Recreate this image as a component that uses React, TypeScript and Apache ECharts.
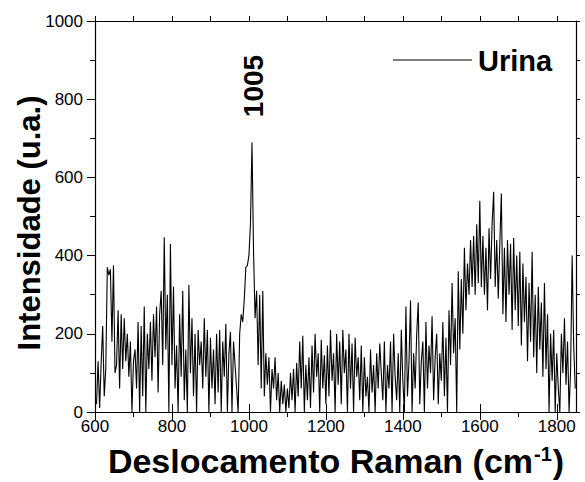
import React, { useEffect, useRef } from "react";
import * as echarts from "echarts";

// Raman shift grid (cm-1): first sample and spacing
const wavenumberStart = 604;
const wavenumberStep = 4;

// Intensity (u.a.), one value per sample
const intensity600s = [20,130,10,125,220,40,110,370,350,365,180,375,100,120,260,60,250,110,240,130,200,90,180,0,130];
const intensity700s = [160,60,230,0,220,40,270,0,200,110,230,80,250,140,270,50,250,310,120,447,160,300,0,430,120];
const intensity800s = [320,60,170,0,250,90,310,30,160,0,325,100,240,40,200,0,210,120,180,60,240,90,210,0,190];
const intensity900s = [60,160,20,200,50,210,0,180,90,225,0,150,205,0,180,120,60,0,200,250,230,290,370,375,400];
const intensity1000s = [480,690,410,240,310,120,300,60,310,40,150,70,140,0,110,60,140,30,100,0,80,20,70,0,60];
const intensity1100s = [10,100,30,110,0,125,40,180,60,195,0,120,30,140,10,170,50,200,90,150,0,185,60,145,20];
const intensity1200s = [170,40,210,80,150,0,200,70,180,20,210,100,160,0,200,60,175,0,190,90,140,30,170,0,140];
const intensity1300s = [40,90,0,160,50,120,0,150,60,175,100,30,180,0,120,60,180,0,200,90,30,150,0,210,80];
const intensity1400s = [0,270,40,130,285,0,150,60,200,280,20,130,180,0,230,60,170,100,245,30,140,200,20,150,80];
const intensity1500s = [230,40,190,0,260,120,330,150,240,0,360,160,340,200,420,260,380,300,440,320,450,300,480,330,540];
const intensity1600s = [320,450,300,420,260,470,340,480,563,320,440,290,430,559,250,420,230,440,300,430,210,445,260,400,220];
const intensity1700s = [410,170,380,230,345,130,330,180,410,140,300,100,320,160,280,90,330,110,250,0,200,80,210,0,150];
const intensity1800s = [60,0,200,100,240,70,180,0,110,400,170,60];

const xMinorTicks = [600, 700, 800, 900, 1000, 1100, 1200, 1300, 1400, 1500, 1600, 1700, 1800];
const xMajorTicks = [600, 800, 1000, 1200, 1400, 1600, 1800];

const seriesName = "Urina";
const peakLabel = "1005";
const xTitle = "Deslocamento Raman (cm";
const xTitleSup = "-1";
const yTitle = "Intensidade (u.a.)";

const FONT = "Liberation Sans, Arial, sans-serif";

export default function App() {
  const ref = useRef<HTMLDivElement>(null);

  useEffect(() => {
    if (!ref.current) return;
    const chart = echarts.init(ref.current, null, { renderer: "svg" });
    const all = [
      ...intensity600s, ...intensity700s, ...intensity800s, ...intensity900s,
      ...intensity1000s, ...intensity1100s, ...intensity1200s, ...intensity1300s,
      ...intensity1400s, ...intensity1500s, ...intensity1600s, ...intensity1700s,
      ...intensity1800s,
    ];
    const data = all.map((v, i) => [wavenumberStart + i * wavenumberStep, v]);

    const black = "#000";
    const plain = (v: number) => String(v);
    const baseX = { type: "value", min: 600, max: 1850, splitLine: { show: false } };

    chart.setOption({
      animation: false,
      textStyle: { fontFamily: FONT },
      grid: { left: 95, right: 9, top: 21, bottom: 70 },
      xAxis: [
        {
          ...baseX,
          position: "bottom",
          axisLine: { show: true, onZero: false, lineStyle: { color: black, width: 1.2 } },
          axisTick: { show: true, length: 5, customValues: xMinorTicks, lineStyle: { color: black, width: 1 } },
          axisLabel: { show: true, customValues: xMajorTicks, formatter: plain, color: black, fontSize: 17, fontFamily: FONT, margin: 6 },
        },
        {
          ...baseX,
          position: "bottom",
          axisLine: { show: false },
          axisTick: { show: true, length: 8, customValues: xMajorTicks, lineStyle: { color: black, width: 1 } },
          axisLabel: { show: false },
        },
        {
          ...baseX,
          position: "top",
          axisLine: { show: true, onZero: false, lineStyle: { color: black, width: 1.2 } },
          axisTick: { show: true, length: 5, customValues: xMinorTicks, lineStyle: { color: black, width: 1 } },
          axisLabel: { show: false },
        },
        {
          ...baseX,
          position: "top",
          axisLine: { show: false },
          axisTick: { show: true, length: 8, customValues: xMajorTicks, lineStyle: { color: black, width: 1 } },
          axisLabel: { show: false },
        },
      ],
      yAxis: [
        {
          type: "value",
          min: 0,
          max: 1000,
          interval: 200,
          position: "left",
          splitLine: { show: false },
          axisLine: { show: true, onZero: false, lineStyle: { color: black, width: 1.2 } },
          axisTick: { show: true, length: 8, lineStyle: { color: black, width: 1 } },
          minorTick: { show: true, splitNumber: 2, length: 5, lineStyle: { color: black, width: 1 } },
          axisLabel: { color: black, fontSize: 17, fontFamily: FONT, margin: 12, formatter: plain },
        },
        {
          type: "value",
          min: 0,
          max: 1000,
          interval: 100,
          position: "right",
          splitLine: { show: false },
          axisLine: { show: true, onZero: false, lineStyle: { color: black, width: 1.2 } },
          axisTick: { show: true, length: 4, lineStyle: { color: black, width: 1 } },
          axisLabel: { show: false },
        },
      ],
      series: [
        {
          name: seriesName,
          type: "line",
          xAxisIndex: 0,
          yAxisIndex: 0,
          data,
          showSymbol: false,
          symbol: "none",
          lineStyle: { color: black, width: 1.1 },
        },
      ],
      graphic: [
        {
          type: "text",
          x: 253,
          y: 86,
          rotation: Math.PI / 2,
          style: { text: peakLabel, fill: black, fontSize: 28, fontWeight: "bold", fontFamily: FONT, align: "center", verticalAlign: "middle" },
        },
        {
          type: "line",
          shape: { x1: 393, y1: 60, x2: 472, y2: 60 },
          style: { stroke: "#555", lineWidth: 1.5 },
        },
        {
          type: "text",
          x: 478,
          y: 61,
          style: { text: seriesName, fill: black, fontSize: 29, fontWeight: "bold", fontFamily: FONT, align: "left", verticalAlign: "middle" },
        },
        {
          type: "text",
          x: 29,
          y: 223,
          rotation: Math.PI / 2,
          style: { text: yTitle, fill: black, fontSize: 31, fontWeight: "bold", fontFamily: FONT, align: "center", verticalAlign: "middle" },
        },
        {
          type: "text",
          x: 336,
          y: 461,
          style: {
            text: `{a|${xTitle}}{s|${xTitleSup}}{a|)}`,
            align: "center",
            verticalAlign: "middle",
            rich: {
              a: { fontSize: 34, fontWeight: "bold", fontFamily: FONT, fill: black, color: black },
              s: { fontSize: 20, fontWeight: "bold", fontFamily: FONT, fill: black, color: black, verticalAlign: "top", padding: [0, 1, 15, 1] },
            },
          },
        },
      ],
    });

    return () => chart.dispose();
  }, []);

  return <div ref={ref} style={{ width: 585, height: 482, position: "absolute", left: 0, top: 0 }} />;
}
